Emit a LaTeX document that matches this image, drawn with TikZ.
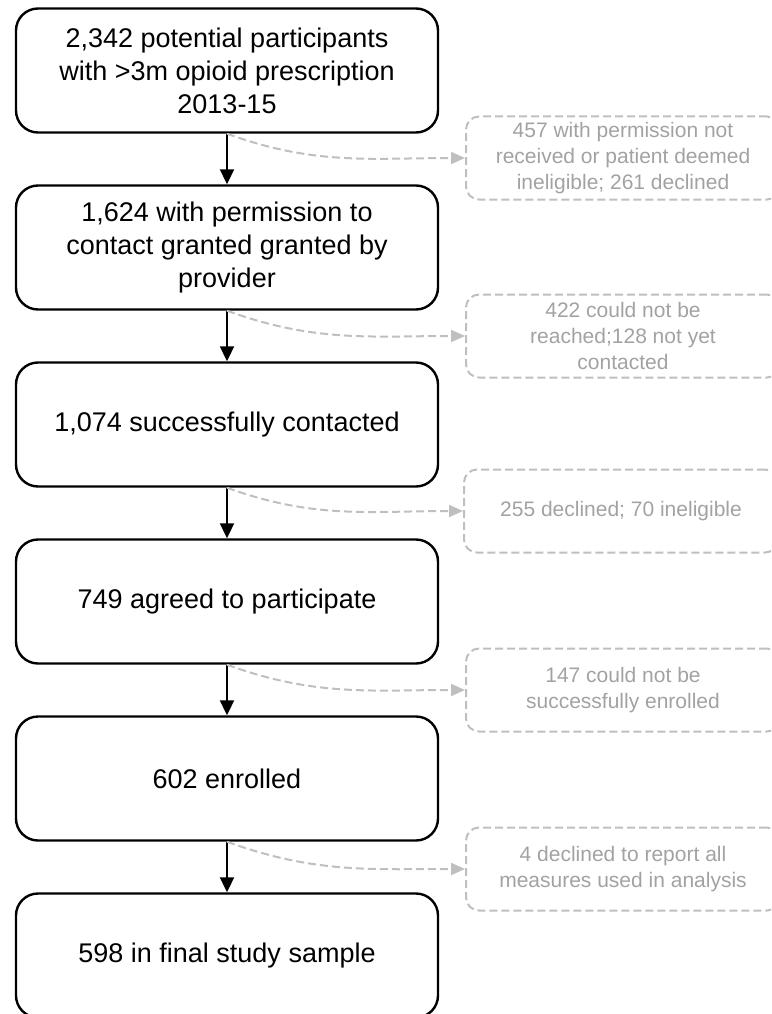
\documentclass[tikz,border=0pt]{standalone}
\usepackage{fontspec}
\setmainfont{Liberation Sans}
\usetikzlibrary{arrows.meta}
\definecolor{skipline}{RGB}{191,191,191}
\definecolor{skiptext}{RGB}{162,162,162}

\begin{document}
\begin{tikzpicture}[x=1pt, y=-1pt,
		stage/.style={draw, line width=2.4pt, rounded corners=22pt, minimum width=422pt, minimum height=124pt, inner sep=0pt, align=center, font=\fontsize{27}{33}\selectfont},
		excl/.style={draw=skipline, line width=2pt, dash pattern=on 8pt off 4pt, rounded corners=13pt, minimum width=314pt, minimum height=83pt, inner sep=0pt, align=center, text=skiptext, font=\fontsize{21}{26}\selectfont},
		flow/.style={line width=2pt, -{Triangle[width=14pt, length=15pt]}},
		drop/.style={skipline, line width=2pt, dash pattern=on 8pt off 4pt, -{Triangle[width=12pt, length=14pt]}}]
		\clip (0,0) rectangle (771,1014);

		\node (b1)[stage] at (227, 70.5)  {2,342 potential participants\\with >3m opioid prescription\\2013-15};
		\node (b2)[stage] at (227,247.5)  {1,624 with permission to\\contact granted granted by\\provider};
		\node (b3)[stage] at (227,424.5)  {1,074 successfully contacted};
		\node (b4)[stage] at (227,601.5)  {749 agreed to participate};
		\node (b5)[stage] at (227,778.5)  {602 enrolled};
		\node (b6)[stage] at (227,955.5)  {598 in final study sample};

		\node (s1)[excl] at (623,158)  {457 with permission not\\received or patient deemed\\ineligible; 261 declined};
		\node (s2)[excl] at (623,336)  {422 could not be\\reached;128 not yet\\contacted};
		\node (s3)[excl] at (621,511)  {255 declined; 70 ineligible};
		\node (s4)[excl] at (623,690)  {147 could not be\\successfully enrolled};
		\node (s5)[excl] at (623,869)  {4 declined to report all\\measures used in analysis};

		\draw [flow](b1)edge(b2);
		\draw [flow](b2)edge(b3);
		\draw [flow](b3)edge(b4);
		\draw [flow](b4)edge(b5);
		\draw [flow](b5)edge(b6);

		\draw [drop](b1.south)to[out=-20,in=180](s1.west);
		\draw [drop](b2.south)to[out=-20,in=180](s2.west);
		\draw [drop](b3.south)to[out=-20,in=180](s3.west);
		\draw [drop](b4.south)to[out=-20,in=180](s4.west);
		\draw [drop](b5.south)to[out=-20,in=180](s5.west);
	\end{tikzpicture}
\end{document}
